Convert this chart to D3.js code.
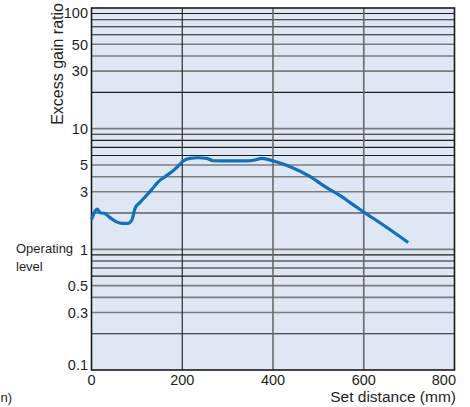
<!DOCTYPE html>
<html><head><meta charset="utf-8">
<script src="https://cdn.jsdelivr.net/npm/d3@7"></script>
<style>
body{margin:0;background:#fff;}
svg{display:block;font-family:"Liberation Sans",Arial,Helvetica,sans-serif;}
</style></head>
<body>
<svg id="c" width="470" height="407"></svg>
<script>
const distance = [0, 13, 19, 28, 41, 55, 67, 80, 89, 96, 107, 122, 133, 147, 162, 177, 191, 202, 217, 235, 254, 268, 300, 340, 360, 375, 401, 438, 482, 518, 548, 570, 599, 643, 698];
const ratio = [1.77, 2.15, 2.01, 1.99, 1.83, 1.69, 1.64, 1.64, 1.75, 2.19, 2.45, 2.82, 3.14, 3.63, 4.0, 4.4, 4.9, 5.39, 5.68, 5.74, 5.68, 5.42, 5.4, 5.4, 5.5, 5.68, 5.39, 4.84, 4.0, 3.25, 2.79, 2.44, 2.05, 1.59, 1.14];
const xTicks = [0, 200, 400, 600, 800];
const yTicks = [0.1, 0.3, 0.5, 1, 3, 5, 10, 30, 50, 100];
const xTitle = "Set distance (mm)";
const yTitle = "Excess gain ratio";
const noteLines = ["Operating", "level"];
const remnant = "n)";

const svg = d3.select("#c");
const L = 91.5, R = 454.5, T = 8, B = 370;
const x = d3.scaleLinear().domain([0, 800]).range([L, R]);
const y = d3.scaleLog().domain([0.1, 100]).range([B, T]);

svg.append("rect").attr("x", L).attr("y", T).attr("width", R - L).attr("height", B - T).attr("fill", "#dfe7f5");

// horizontal grid
const grid = [];
[0.1, 1, 10].forEach(d => { for (let m = 1; m <= 9; m++) grid.push({v: d * m, m}); });
svg.append("g").selectAll("line").data(grid.filter(g => g.v > 0.1)).join("line")
  .attr("x1", L).attr("x2", R)
  .attr("y1", d => y(d.v)).attr("y2", d => y(d.v))
  .attr("stroke", d => [1, 3, 4, 5].includes(d.m) ? "#7c7c7c" : "#1c1c1c")
  .attr("stroke-width", d => [1, 3, 4, 5].includes(d.m) ? 1.6 : 1.1);

// vertical grid
svg.append("g").selectAll("line").data(xTicks.slice(1, -1)).join("line")
  .attr("x1", d => x(d)).attr("x2", d => x(d)).attr("y1", T).attr("y2", B)
  .attr("stroke", (d, i) => i === 0 ? "#1c1c1c" : "#6a6a6a")
  .attr("stroke-width", (d, i) => i === 0 ? 1.1 : 1.6);

svg.append("rect").attr("x", L).attr("y", T).attr("width", R - L).attr("height", B - T)
  .attr("fill", "none").attr("stroke", "#1a1a1a").attr("stroke-width", 1.6);

// curve
const line = d3.line().x((d, i) => x(distance[i])).y(d => y(d)).curve(d3.curveMonotoneX);
svg.append("path").attr("d", line(ratio)).attr("fill", "none")
  .attr("stroke", "#0a72c1").attr("stroke-width", 3.2)
  .attr("stroke-linejoin", "round").attr("stroke-linecap", "butt");

// y tick labels
svg.append("g").selectAll("text").data(yTicks).join("text")
  .attr("x", 88).attr("y", d => y(d) + (d === 100 ? 5 : d === 0.1 ? -5 : 0))
  .attr("dy", "0.36em").attr("text-anchor", "end")
  .attr("font-size", 14.5).attr("fill", "#231f20")
  .text(d => d);

// x tick labels
svg.append("g").selectAll("text").data(xTicks).join("text")
  .attr("x", (d, i) => i === xTicks.length - 1 ? x(d) + 1.5 : x(d))
  .attr("y", 385)
  .attr("text-anchor", (d, i) => i === xTicks.length - 1 ? "end" : "middle")
  .attr("font-size", 14.5).attr("fill", "#231f20")
  .text(d => d);

svg.append("text").attr("x", 456).attr("y", 402).attr("text-anchor", "end")
  .attr("font-size", 15.5).attr("fill", "#231f20").text(xTitle);

svg.append("text").attr("transform", "translate(63,3) rotate(-90)")
  .attr("text-anchor", "end").attr("font-size", 16).attr("fill", "#231f20").text(yTitle);

svg.append("g").selectAll("text").data(noteLines).join("text")
  .attr("x", 16).attr("y", (d, i) => y(1) + 4 + i * 17.5)
  .attr("font-size", 13).attr("fill", "#231f20").text(d => d);

// remnant label at bottom-left
svg.append("text").attr("x", 0.5).attr("y", 402)
  .attr("font-size", 13).attr("fill", "#231f20").text(remnant);
</script>
</body></html>
